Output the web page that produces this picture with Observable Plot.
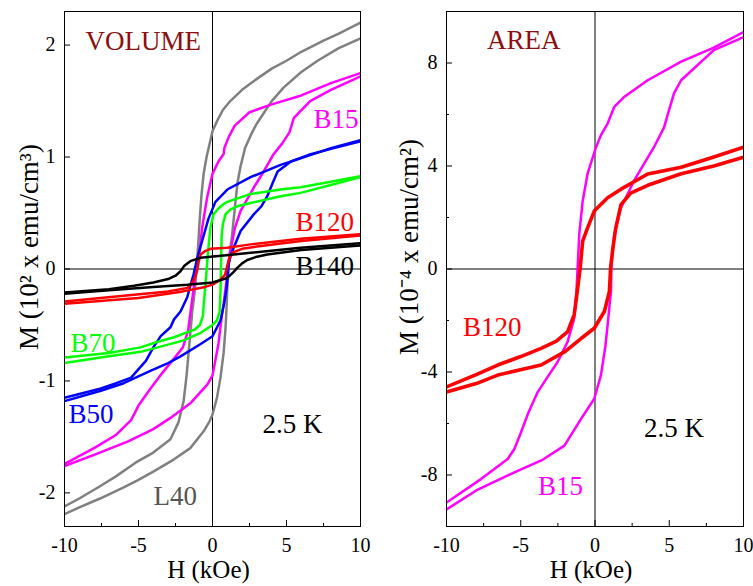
<!DOCTYPE html>
<html><head><meta charset="utf-8">
<script src="https://cdn.jsdelivr.net/npm/d3@7"></script>
<script src="https://cdn.jsdelivr.net/npm/@observablehq/plot@0.6"></script>
<style>
body{margin:0;background:#fff;}
#wrap{position:relative;width:753px;height:586px;overflow:hidden;font-family:"Liberation Serif",serif;}
#wrap svg{position:absolute;top:0;font-family:"Liberation Serif",serif !important;}
#wrap svg text{font-family:"Liberation Serif",serif;}
</style></head><body><div id="wrap"></div>
<script>
// ---------- LEFT PANEL (VOLUME), M in 10^2 emu/cm^3, H in kOe ----------
// each loop: descending branch (field +10 -> -10) and ascending branch (-10 -> +10), [H, M]
const L40_desc = [[10,2.2],[8.5,2.1],[7.5,2.04],[6,1.94],[5,1.86],[4,1.79],[2.8,1.68],[2,1.6],[1.2,1.5],[0.7,1.42],[0.3,1.32],[0,1.23],[-0.4,1.0],[-0.6,0.85],[-0.75,0.65],[-0.86,0.45],[-0.95,0.25],[-1.05,0.05],[-1.2,-0.2],[-1.37,-0.38],[-1.55,-0.65],[-1.75,-0.95],[-1.95,-1.18],[-2.3,-1.37],[-2.84,-1.52],[-4,-1.64],[-5.2,-1.73],[-6.5,-1.85],[-7.6,-1.94],[-9,-2.05],[-10,-2.12]];
const L40_asc = [[-10,-2.19],[-9,-2.13],[-7.6,-2.05],[-6,-1.95],[-5.1,-1.89],[-4,-1.81],[-2.6,-1.7],[-1.5,-1.6],[-0.6,-1.45],[-0.2,-1.36],[0,-1.3],[0.3,-1.15],[0.54,-0.97],[0.75,-0.75],[0.88,-0.53],[0.95,-0.35],[1.0,-0.17],[1.1,0.05],[1.2,0.18],[1.33,0.31],[1.55,0.6],[1.7,0.78],[1.9,0.92],[2.2,1.08],[2.6,1.2],[3.0,1.3],[3.5,1.4],[4.0,1.5],[4.8,1.62],[6,1.76],[7.1,1.86],[8.5,1.97],[10,2.06]];
const B15_desc = [[10,1.75],[8,1.66],[6,1.55],[4,1.47],[2.5,1.4],[1.5,1.28],[1.1,1.18],[0.8,1.08],[0.76,1.03],[0.4,0.96],[0,0.85],[-0.36,0.64],[-0.7,0.37],[-0.87,0.16],[-1.0,0.02],[-1.15,-0.05],[-1.4,-0.3],[-1.65,-0.55],[-2.0,-0.7],[-2.6,-0.8],[-3.4,-0.93],[-4.2,-1.07],[-5.0,-1.22],[-5.5,-1.35],[-6.5,-1.48],[-8,-1.6],[-10,-1.74]];
const B15_asc = [[-10,-1.76],[-8,-1.66],[-5.7,-1.54],[-4,-1.43],[-2.84,-1.33],[-1.5,-1.2],[-0.34,-1.03],[0,-0.95],[0.4,-0.67],[0.6,-0.45],[0.76,-0.3],[0.95,-0.1],[1.1,0.08],[1.3,0.22],[1.5,0.36],[1.9,0.52],[2.8,0.73],[3.5,0.88],[4.1,1.02],[4.7,1.12],[5.2,1.22],[5.5,1.35],[6.6,1.5],[8,1.6],[10,1.72]];
const B50_desc = [[10,1.15],[8,1.08],[6,0.99],[4.6,0.93],[2.57,0.82],[1.0,0.71],[0.2,0.6],[-0.27,0.45],[-0.7,0.25],[-1.03,0.1],[-1.28,-0.05],[-1.5,-0.15],[-1.7,-0.25],[-2.16,-0.38],[-2.6,-0.45],[-2.84,-0.52],[-3.5,-0.6],[-4.0,-0.7],[-4.5,-0.82],[-5.1,-0.91],[-5.5,-0.97],[-6.5,-1.02],[-7.6,-1.07],[-10,-1.15]];
const B50_asc = [[-10,-1.18],[-7.6,-1.09],[-6,-1.02],[-4.2,-0.91],[-3,-0.84],[-2.16,-0.78],[-0.8,-0.67],[0,-0.6],[0.54,-0.46],[0.8,-0.3],[0.95,-0.17],[1.1,0.05],[1.25,0.13],[1.43,0.19],[1.9,0.34],[2.8,0.49],[3.3,0.56],[3.7,0.65],[4.1,0.78],[4.4,0.87],[5.3,0.96],[6.5,1.02],[8.2,1.08],[10,1.14]];
const B70_desc = [[10,0.83],[8,0.78],[5.95,0.73],[4.6,0.71],[2.57,0.67],[1.9,0.64],[1.0,0.6],[0.76,0.58],[0.4,0.54],[0.07,0.49],[-0.14,0.37],[-0.3,0.16],[-0.45,-0.1],[-0.58,-0.3],[-0.65,-0.42],[-0.85,-0.5],[-1.2,-0.54],[-1.6,-0.56],[-2.6,-0.61],[-3.7,-0.65],[-4.86,-0.7],[-7,-0.75],[-10,-0.79]];
const B70_asc = [[-10,-0.84],[-7,-0.78],[-4.86,-0.74],[-3.7,-0.7],[-2,-0.64],[-0.8,-0.57],[0,-0.5],[0.3,-0.46],[0.48,-0.38],[0.54,-0.2],[0.58,0.07],[0.62,0.3],[0.7,0.4],[0.88,0.49],[1.2,0.53],[1.67,0.56],[2.57,0.59],[4.6,0.65],[5.95,0.68],[8,0.75],[10,0.82]];
const B120_desc = [[10,0.31],[5.95,0.27],[2.57,0.22],[1.0,0.19],[-0.14,0.18],[-0.5,0.16],[-0.8,0.13],[-0.95,0.06],[-1.05,-0.02],[-1.2,-0.08],[-1.4,-0.13],[-1.7,-0.17],[-3,-0.2],[-5.3,-0.23],[-10,-0.29]];
const B120_asc = [[-10,-0.31],[-5,-0.26],[-2,-0.2],[-0.5,-0.16],[0,-0.14],[0.5,-0.1],[0.85,-0.05],[1.0,0.03],[1.15,0.1],[1.4,0.15],[2,0.18],[3,0.2],[6,0.25],[10,0.3]];
const B140_desc = [[10,0.23],[5.95,0.19],[1.43,0.13],[-0.8,0.1],[-1.5,0.07],[-1.9,0.03],[-2.16,-0.02],[-2.5,-0.06],[-3.0,-0.09],[-4,-0.12],[-5.3,-0.15],[-7,-0.18],[-10,-0.21]];
const B140_asc = [[-10,-0.22],[-7,-0.19],[-4,-0.16],[-1.7,-0.14],[0,-0.12],[1.0,-0.08],[1.4,-0.03],[1.67,0.01],[2.0,0.05],[2.35,0.08],[3,0.11],[3.7,0.13],[6,0.17],[10,0.21]];

// ---------- RIGHT PANEL (AREA), M in 10^-4 emu/cm^2 ----------
const B15A_desc = [[10,9.2],[8,8.6],[5.8,8.05],[3.55,7.33],[2,6.7],[1.3,6.3],[0.85,5.65],[0.4,5.2],[0.07,4.73],[-0.5,3.7],[-0.83,2.64],[-1.06,1.35],[-1.17,0.04],[-1.25,-0.87],[-1.39,-1.9],[-1.84,-2.82],[-2.51,-3.6],[-3.2,-4.2],[-3.86,-4.78],[-4.5,-5.6],[-4.98,-6.34],[-5.43,-6.99],[-5.88,-7.38],[-7.68,-8.16],[-10,-9.07]];
const B15A_asc = [[-10,-9.34],[-8,-8.6],[-5.43,-7.9],[-3.5,-7.4],[-2.06,-6.86],[-0.94,-5.82],[-0.05,-5.04],[0.4,-4.12],[0.7,-3.0],[0.85,-2.17],[1.0,-1.3],[1.08,-0.87],[1.1,0.04],[1.3,1.35],[1.75,2.38],[2.63,3.43],[3.97,4.73],[4.65,5.5],[5.0,6.2],[5.32,6.82],[5.8,7.33],[8.0,8.5],[10,9.0]];
const B120A_desc = [[10,4.73],[8,4.35],[5.8,3.95],[3.55,3.69],[1.75,3.1],[0.85,2.77],[-0.05,2.25],[-0.5,1.6],[-0.83,1.08],[-1.0,0.04],[-1.2,-0.9],[-1.4,-1.77],[-1.84,-2.43],[-2.6,-2.8],[-3.63,-3.08],[-5,-3.4],[-6.55,-3.73],[-8,-4.1],[-10,-4.58]];
const B120A_asc = [[-10,-4.78],[-8,-4.45],[-6.55,-4.12],[-3.63,-3.73],[-2,-3.2],[-0.94,-2.7],[-0.05,-2.3],[0.63,-1.65],[0.97,-0.87],[1.05,0.04],[1.2,0.8],[1.4,1.6],[1.75,2.5],[2.4,2.95],[3.55,3.25],[5.8,3.7],[8,4.0],[10,4.34]];

const xTicks = [-10,-5,0,5,10];
const xMinor = [-7.5,-2.5,2.5,7.5];
const yTicksV = [-2,-1,0,1,2];
const yTicksA = [-8,-4,0,4,8];
const yMinorA = [-6,-2,2,6];

const COL = {gray:"#808080", magenta:"#ff00ff", blue:"#0000ff", green:"#00ff00", red:"#ff0000", black:"#000000", title:"#8b1010", l40:"#555555"};
const FONT = "Liberation Serif";

function rows(desc, asc) {
  return [...desc.map(([H,M]) => ({H, M, b:"d"})), ...asc.map(([H,M]) => ({H, M, b:"a"}))];
}

function panel({width, mL, mR, yDomain, yTicks, yMinor, ylabel, series, labels, ylabelDx}) {
  const marks = [
    Plot.ruleX([0], {stroke:"black", strokeWidth:1}),
    Plot.ruleY([0], {stroke:"black", strokeWidth:1}),
    ...series.map(s => Plot.line(rows(s.desc, s.asc), {x:"H", y:"M", z:"b", stroke:s.color, strokeWidth:s.w || 2.5, strokeLinejoin:"round", clip:true})),
    Plot.axisX({ticks:xTicks, tickSize:-6, tickPadding:17, tickFormat:d => String(d), fontSize:20, fontFamily:FONT, label:null}),
    Plot.axisX({ticks:xMinor, tickSize:-3, tickFormat:() => "", label:null}),
    Plot.axisY({ticks:yTicks, tickSize:-6, tickPadding:15, tickFormat:d => String(d), fontSize:20, fontFamily:FONT, label:null}),
    ...(yMinor ? [Plot.axisY({ticks:yMinor, tickSize:-3, tickFormat:() => "", label:null})] : []),
    Plot.frame({stroke:"black", strokeWidth:1}),
    Plot.text(["H (kOe)"], {frameAnchor:"bottom", dx:-4, dy:43, fontSize:25, fontFamily:FONT, textAnchor:"middle", lineAnchor:"middle"}),
    Plot.text([ylabel], {frameAnchor:"left", dx:ylabelDx, dy:-22, rotate:-90, fontSize:27, fontFamily:FONT, textAnchor:"middle", lineAnchor:"middle"}),
    ...labels.map(l => Plot.text([l.t], {x:l.x, y:l.y, fill:l.c, fontSize:27, fontFamily:FONT, textAnchor:"start", lineAnchor:"middle"}))
  ];
  return Plot.plot({
    width, height:586, marginLeft:mL, marginRight:mR, marginTop:11, marginBottom:60,
    style:{fontFamily:FONT, fontSize:"20px", background:"transparent", color:"black"},
    x:{domain:[-10,10]}, y:{domain:yDomain},
    marks
  });
}

const left = panel({
  width:376, mL:64, mR:16, yDomain:[-2.3,2.3], yTicks:yTicksV, yMinor:null,
  ylabel:"M (10² x emu/cm³)", ylabelDx:-35,
  series:[
    {desc:L40_desc, asc:L40_asc, color:COL.gray},
    {desc:B15_desc, asc:B15_asc, color:COL.magenta},
    {desc:B50_desc, asc:B50_asc, color:COL.blue},
    {desc:B70_desc, asc:B70_asc, color:COL.green},
    {desc:B120_desc, asc:B120_asc, color:COL.red},
    {desc:B140_desc, asc:B140_asc, color:COL.black}
  ],
  labels:[
    {t:"VOLUME", x:-8.58, y:2.03, c:COL.title},
    {t:"B15", x:6.82, y:1.34, c:COL.magenta},
    {t:"B120", x:5.61, y:0.42, c:COL.red},
    {t:"B140", x:5.61, y:0.02, c:COL.black},
    {t:"B70", x:-9.59, y:-0.665, c:COL.green},
    {t:"B50", x:-9.73, y:-1.30, c:COL.blue},
    {t:"2.5 K", x:3.38, y:-1.39, c:COL.black},
    {t:"L40", x:-3.99, y:-2.03, c:COL.l40}
  ]
});
const right = panel({
  width:377, mL:70, mR:10, yDomain:[-10,10], yTicks:yTicksA, yMinor:yMinorA,
  ylabel:"M (10⁻⁴ x emu/cm²)", ylabelDx:-37,
  series:[
    {desc:B15A_desc, asc:B15A_asc, color:COL.magenta},
    {desc:B120A_desc, asc:B120A_asc, color:COL.red, w:3.6}
  ],
  labels:[
    {t:"AREA", x:-7.27, y:8.86, c:COL.title},
    {t:"B120", x:-8.89, y:-2.28, c:COL.red},
    {t:"B15", x:-3.84, y:-8.45, c:COL.magenta},
    {t:"2.5 K", x:3.30, y:-6.2, c:COL.black}
  ]
});
left.style.left = "0px";
right.style.left = "376px";
const wrap = document.getElementById("wrap");
wrap.appendChild(left);
wrap.appendChild(right);
</script></body></html>
